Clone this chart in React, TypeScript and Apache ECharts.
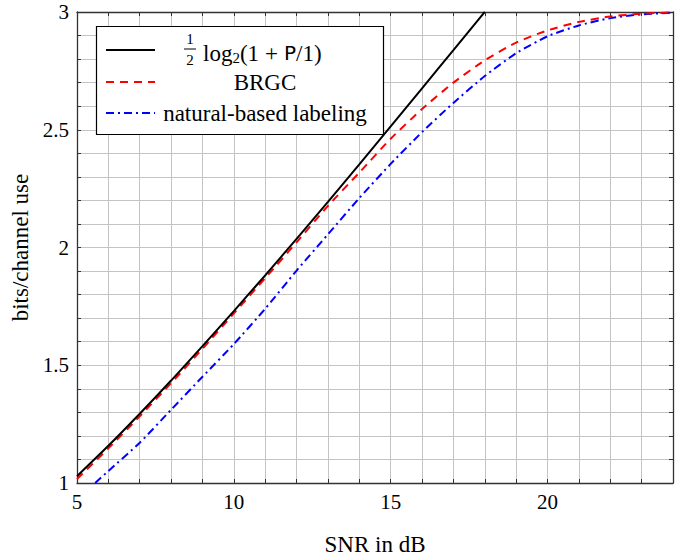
import React, { useEffect, useRef } from "react";
import * as echarts from "echarts";

// SNR (dB) and bits/channel use
const snrCap = [5, 6, 7, 8, 9, 10, 11, 12, 13, 14, 15, 16, 17, 18];
const capacity = [1.029, 1.158, 1.294, 1.435, 1.581, 1.73, 1.882, 2.037, 2.194, 2.353, 2.514, 2.676, 2.838, 3.001];

const snrBrgc = [5, 6, 7, 8, 9, 10, 11, 12, 13, 14, 15, 16, 17, 18, 19, 20, 21, 22, 23, 24];
const brgc = [1.017, 1.147, 1.283, 1.424, 1.57, 1.72, 1.87, 2.022, 2.177, 2.318, 2.462, 2.588, 2.7, 2.795, 2.87, 2.922, 2.958, 2.981, 2.993, 2.998];

const snrNat = [5.58, 6, 7, 8, 9, 10, 11, 12, 13, 14, 15, 16, 17, 18, 19, 20, 21, 22, 23, 24];
const natural = [1.0, 1.051, 1.171, 1.311, 1.451, 1.59, 1.74, 1.902, 2.056, 2.21, 2.355, 2.49, 2.614, 2.728, 2.825, 2.897, 2.943, 2.974, 2.99, 2.997];

const xTickLabels = [5, 10, 15, 20];
const yTickLabels = [1, 1.5, 2, 2.5, 3];

const FONT = "Liberation Serif";
const SANS = "DejaVu Sans";
const GRID_COLOR = "#c4c4c4";
const AXIS_COLOR = "#333333";

const zip = (xs: number[], ys: number[]) => xs.map((x, i) => [x, ys[i]]);

export default function App() {
  const ref = useRef<HTMLDivElement>(null);

  useEffect(() => {
    if (!ref.current) return;
    const chart = echarts.init(ref.current, null, { renderer: "svg" });

    const near = (v: number, list: number[]) => list.some((t) => Math.abs(t - v) < 1e-6);

    const xBase = {
      type: "value" as const,
      min: 5,
      max: 24,
      interval: 1,
      axisLine: { show: true, lineStyle: { color: AXIS_COLOR, width: 1.3 } },
      axisTick: { show: true, inside: true, length: 4, lineStyle: { color: AXIS_COLOR, width: 1 } },
      splitLine: { show: true, lineStyle: { color: GRID_COLOR, width: 1 } },
    };
    const yBase = {
      type: "value" as const,
      min: 1,
      max: 3,
      interval: 0.1,
      axisLine: { show: true, lineStyle: { color: AXIS_COLOR, width: 1.3 } },
      axisTick: { show: true, inside: true, length: 4, lineStyle: { color: AXIS_COLOR, width: 1 } },
      splitLine: { show: true, lineStyle: { color: GRID_COLOR, width: 1 } },
    };

    const sampleX0 = 106;
    const sampleX1 = 155;
    const textCx = 265;
    const rows = [50, 82, 113];

    const labelStyle = { fontFamily: FONT, fontSize: 21, color: "#000000" };
    const nameStyle = { fontFamily: FONT, fontSize: 23, color: "#000000" };

    chart.setOption({
      animation: false,
      backgroundColor: "#ffffff",
      textStyle: { fontFamily: FONT },
      grid: { left: 77, right: 21, top: 12, bottom: 74, outerBoundsMode: "none", containLabel: false },
      xAxis: [
        {
          ...xBase,
          position: "bottom",
          name: "SNR in dB",
          nameLocation: "middle",
          nameGap: 50,
          nameTextStyle: { ...nameStyle },
          axisLabel: {
            show: true,
            margin: 8,
            ...labelStyle,
            showMinLabel: true,
            formatter: (v: number) => (near(v, xTickLabels) ? String(v) : ""),
          },
        },
        {
          ...xBase,
          position: "top",
          axisLabel: { show: false },
          splitLine: { show: false },
        },
      ],
      yAxis: [
        {
          ...yBase,
          position: "left",
          name: "bits/channel use",
          nameLocation: "middle",
          nameGap: 45,
          nameTextStyle: { ...nameStyle },
          axisLabel: {
            show: true,
            margin: 8,
            ...labelStyle,
            showMinLabel: true,
            showMaxLabel: true,
            formatter: (v: number) => (near(v, yTickLabels) ? String(+v.toFixed(1)) : ""),
          },
        },
        {
          ...yBase,
          position: "right",
          axisLabel: { show: false },
          splitLine: { show: false },
        },
      ],
      series: [
        {
          name: "capacity",
          type: "line",
          xAxisIndex: 0,
          yAxisIndex: 0,
          data: zip(snrCap, capacity),
          showSymbol: false,
          smooth: 0.2,
          clip: true,
          lineStyle: { color: "#000000", width: 2, type: "solid" },
          z: 5,
        },
        {
          name: "BRGC",
          type: "line",
          xAxisIndex: 0,
          yAxisIndex: 0,
          data: zip(snrBrgc, brgc),
          showSymbol: false,
          smooth: 0.2,
          clip: true,
          lineStyle: { color: "#ff0000", width: 2, type: [8, 6] },
          z: 4,
        },
        {
          name: "natural-based labeling",
          type: "line",
          xAxisIndex: 0,
          yAxisIndex: 0,
          data: zip(snrNat, natural),
          showSymbol: false,
          smooth: 0.2,
          clip: true,
          lineStyle: { color: "#0000ff", width: 2, type: [8, 4, 2, 4] },
          z: 3,
        },
      ],
      graphic: [
        {
          id: "lgBox",
          type: "rect",
          z: 100,
          shape: { x: 96.5, y: 26.5, width: 287, height: 108 },
          style: { fill: "#ffffff", stroke: "#000000", lineWidth: 1.2 },
        },
        {
          id: "lgLine0",
          type: "line",
          z: 101,
          shape: { x1: sampleX0, y1: rows[0], x2: sampleX1, y2: rows[0] },
          style: { stroke: "#000000", lineWidth: 2, fill: null },
        },
        {
          id: "lgLine1",
          type: "line",
          z: 101,
          shape: { x1: sampleX0, y1: rows[1], x2: sampleX1, y2: rows[1] },
          style: { stroke: "#ff0000", lineWidth: 2, lineDash: [8, 6], fill: null },
        },
        {
          id: "lgLine2",
          type: "line",
          z: 101,
          shape: { x1: sampleX0, y1: rows[2], x2: sampleX1, y2: rows[2] },
          style: { stroke: "#0000ff", lineWidth: 2, lineDash: [8, 4, 2, 4], fill: null },
        },
        {
          id: "lgFracNum",
          type: "text",
          z: 101,
          x: 190,
          y: 39,
          style: { text: "1", fontFamily: FONT, fontSize: 15, fill: "#000000", align: "center", verticalAlign: "middle" },
        },
        {
          id: "lgFracBar",
          type: "line",
          z: 101,
          shape: { x1: 184, y1: 49, x2: 196, y2: 49 },
          style: { stroke: "#000000", lineWidth: 1, fill: null },
        },
        {
          id: "lgFracDen",
          type: "text",
          z: 101,
          x: 190,
          y: 60,
          style: { text: "2", fontFamily: FONT, fontSize: 15, fill: "#000000", align: "center", verticalAlign: "middle" },
        },
        {
          id: "lgText0",
          type: "text",
          z: 101,
          x: 203,
          y: 53,
          style: {
            text: "{a|log}{s|2}{a|(1}{o|+}{p|P}{a|/1)}",
            align: "left",
            verticalAlign: "middle",
            fill: "#000000",
            rich: {
              a: { fontFamily: FONT, fontSize: 23, color: "#000000", lineHeight: 25 },
              o: { fontFamily: FONT, fontSize: 23, color: "#000000", lineHeight: 25, padding: [0, 6, 0, 6] },
              s: { fontFamily: FONT, fontSize: 15, color: "#000000", verticalAlign: "bottom", lineHeight: 15 },
              p: { fontFamily: SANS, fontSize: 20, color: "#000000", lineHeight: 25 },
            },
          },
        },
        {
          id: "lgText1",
          type: "text",
          z: 101,
          x: textCx,
          y: rows[1],
          style: { text: "BRGC", fontFamily: FONT, fontSize: 23, fill: "#000000", align: "center", verticalAlign: "middle" },
        },
        {
          id: "lgText2",
          type: "text",
          z: 101,
          x: textCx,
          y: rows[2],
          style: {
            text: "natural-based labeling",
            fontFamily: FONT,
            fontSize: 23,
            fill: "#000000",
            align: "center",
            verticalAlign: "middle",
          },
        },
      ],
    });

    return () => chart.dispose();
  }, []);

  return (
    <div
      ref={ref}
      style={{ position: "absolute", left: 0, top: 0, width: 694, height: 557, background: "#fff" }}
    />
  );
}
